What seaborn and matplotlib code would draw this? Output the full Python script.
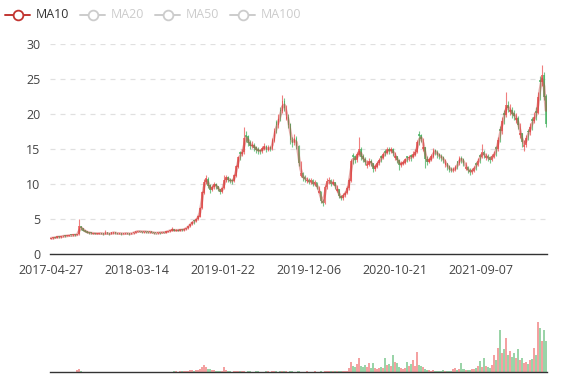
import numpy as np
import pandas as pd
import matplotlib
matplotlib.use('Agg')
import matplotlib.pyplot as plt
import seaborn as sns
from matplotlib.lines import Line2D

# weekly OHLC (2017-04-27 .. 2022-04)
close = [
    2.3, 2.35, 2.4, 2.5, 2.45, 2.55, 2.6, 2.6, 2.65, 2.7,
    2.7, 2.75, 2.75, 2.8, 3.9, 3.7, 3.4, 3.25, 3.1, 3.05,
    3.0, 3.0, 2.95, 2.95, 3.0, 2.95, 2.9, 3.0, 2.95, 2.9,
    3.05, 3.1, 3.0, 2.95, 3.0, 2.9, 2.95, 3.0, 2.95, 2.9,
    3.0, 3.1, 3.2, 3.3, 3.25, 3.2, 3.25, 3.2, 3.15, 3.2,
    3.1, 3.05, 3.0, 3.1, 3.05, 3.15, 3.1, 3.2, 3.3, 3.4,
    3.5, 3.4, 3.45, 3.4, 3.5, 3.45, 3.6, 3.7, 4.0, 4.3,
    4.6, 4.7, 5.0, 5.4, 6.5, 8.8, 10.3, 10.8, 9.8, 9.2,
    9.6, 10.0, 9.7, 9.3, 8.9, 9.4, 10.6, 11.0, 10.6, 10.5,
    10.4, 11.2, 12.5, 13.8, 14.3, 14.6, 16.5, 16.8, 15.9, 15.5,
    15.6, 15.2, 14.9, 14.8, 14.7, 15.1, 15.4, 14.9, 15.2, 15.0,
    16.2, 17.6, 18.5, 19.3, 20.4, 21.8, 20.9, 19.6, 18.5, 16.3,
    15.9, 16.6, 15.4, 13.0, 11.5, 10.9, 10.8, 10.6, 10.3, 10.5,
    10.0, 10.2, 9.6, 9.0, 7.6, 7.3, 9.6, 10.4, 10.5, 10.1,
    10.3, 9.7, 9.2, 8.3, 8.0, 8.4, 8.7, 9.4, 10.5, 13.2,
    13.9, 13.4, 14.2, 15.0, 13.9, 13.6, 13.2, 12.8, 13.3, 13.0,
    12.2, 12.5, 13.0, 13.4, 13.8, 14.2, 14.5, 14.9, 14.8, 14.9,
    14.4, 13.9, 13.4, 12.8, 12.9, 13.1, 13.5, 13.7, 13.8, 13.9,
    14.2, 14.6, 15.9, 16.9, 16.4, 15.2, 13.6, 13.2, 13.5, 13.9,
    14.8, 14.6, 14.2, 14.0, 13.8, 13.4, 12.9, 12.5, 12.1, 12.0,
    12.1, 12.4, 13.0, 13.7, 13.5, 13.0, 12.4, 12.0, 11.8, 11.9,
    12.2, 12.8, 13.3, 13.9, 14.6, 14.2, 13.9, 13.8, 13.5, 13.9,
    14.3, 15.0, 16.2, 17.6, 19.0, 19.9, 21.3, 20.9, 20.5, 20.1,
    19.8, 19.4, 18.5, 17.2, 16.0, 15.6, 16.6, 17.4, 18.1, 19.0,
    19.5, 20.2, 22.4, 24.6, 25.5, 22.5, 18.6,
]

open_ = [
    2.2, 2.3, 2.45, 2.4, 2.55, 2.45, 2.55, 2.65, 2.6, 2.65,
    2.75, 2.7, 2.8, 2.75, 2.85, 3.95, 3.65, 3.4, 3.2, 3.1,
    3.05, 2.95, 3.0, 2.9, 2.95, 3.0, 2.95, 2.9, 3.05, 2.95,
    2.9, 3.0, 3.1, 3.0, 2.95, 3.0, 2.9, 2.95, 3.0, 2.95,
    2.9, 3.0, 3.1, 3.2, 3.3, 3.25, 3.2, 3.25, 3.2, 3.15,
    3.2, 3.1, 3.05, 3.0, 3.1, 3.05, 3.15, 3.1, 3.2, 3.3,
    3.4, 3.5, 3.4, 3.45, 3.4, 3.5, 3.45, 3.6, 3.7, 4.0,
    4.3, 4.8, 4.75, 5.0, 5.4, 6.6, 8.8, 10.3, 10.7, 9.8,
    9.2, 9.6, 10.0, 9.7, 9.3, 8.9, 9.4, 10.6, 11.0, 10.6,
    10.5, 10.4, 11.2, 12.5, 14.5, 14.3, 14.6, 17.0, 16.8, 15.9,
    15.5, 15.6, 15.2, 14.9, 14.8, 14.7, 15.1, 15.4, 14.9, 15.2,
    15.0, 16.2, 18.8, 18.5, 20.6, 20.4, 21.8, 19.3, 19.6, 18.5,
    16.3, 15.9, 16.6, 15.4, 11.2, 11.5, 10.9, 10.4, 10.6, 10.3,
    10.5, 10.0, 10.2, 8.8, 9.0, 7.6, 7.3, 9.6, 10.4, 10.5,
    10.1, 10.3, 9.0, 9.2, 8.3, 8.0, 8.4, 8.7, 9.4, 10.5,
    14.1, 13.9, 13.4, 14.2, 15.0, 13.9, 13.6, 12.6, 12.8, 13.3,
    13.0, 12.2, 12.5, 13.0, 14.0, 13.8, 14.7, 14.5, 14.9, 14.8,
    14.9, 13.7, 13.9, 13.4, 12.8, 12.9, 13.1, 13.9, 13.7, 14.1,
    13.9, 14.2, 14.6, 17.1, 16.9, 15.0, 15.2, 13.6, 13.2, 13.5,
    13.9, 14.8, 14.6, 14.2, 14.0, 13.8, 12.7, 12.9, 12.5, 12.1,
    12.0, 12.1, 13.2, 13.0, 13.7, 13.5, 12.2, 12.4, 12.0, 11.8,
    11.9, 13.0, 12.8, 14.1, 13.9, 14.6, 13.7, 13.9, 13.8, 13.5,
    13.9, 15.2, 15.0, 17.8, 17.6, 20.1, 19.9, 21.3, 20.3, 20.5,
    20.1, 19.2, 19.4, 17.0, 17.2, 15.3, 15.6, 17.6, 17.4, 19.2,
    19.0, 20.4, 20.2, 24.8, 24.6, 25.5, 22.5,
]

high = [
    2.4, 2.45, 2.5, 2.6, 2.6, 2.65, 2.7, 2.7, 2.75, 2.8,
    2.8, 2.85, 2.85, 2.9, 5.0, 4.1, 3.75, 3.5, 3.3, 3.2,
    3.15, 3.1, 3.1, 3.05, 3.1, 3.1, 3.0, 3.5, 3.1, 3.0,
    3.15, 3.2, 3.15, 3.05, 3.1, 3.05, 3.05, 3.1, 3.05, 3.0,
    3.1, 3.2, 3.3, 3.4, 3.4, 3.35, 3.35, 3.3, 3.3, 3.3,
    3.25, 3.2, 3.1, 3.2, 3.15, 3.25, 3.2, 3.3, 3.4, 3.5,
    3.85, 3.6, 3.55, 3.55, 3.6, 3.6, 3.7, 3.8, 4.1, 4.4,
    4.75, 4.9, 5.2, 5.6, 6.7, 9.0, 10.8, 11.3, 11.0, 10.0,
    9.9, 10.3, 10.2, 9.8, 9.4, 9.6, 11.3, 11.4, 11.2, 10.9,
    10.8, 11.5, 12.8, 14.1, 14.8, 15.1, 18.2, 17.6, 17.0, 16.3,
    16.2, 15.9, 15.5, 15.3, 15.1, 15.5, 15.9, 15.6, 15.6, 15.5,
    16.6, 18.0, 19.2, 20.0, 21.0, 22.7, 22.3, 21.3, 20.0, 18.8,
    16.8, 17.2, 16.9, 15.6, 13.3, 11.8, 11.3, 11.1, 10.9, 10.9,
    10.7, 10.6, 10.3, 9.8, 9.1, 7.9, 9.9, 10.9, 11.0, 10.8,
    10.7, 10.4, 9.9, 9.3, 8.5, 8.7, 9.0, 9.7, 10.9, 13.6,
    14.5, 14.2, 14.6, 16.7, 15.3, 14.3, 13.9, 13.5, 13.7, 13.6,
    13.1, 12.9, 13.4, 13.8, 14.2, 14.6, 15.0, 15.4, 15.3, 15.4,
    15.2, 14.6, 14.1, 13.6, 13.3, 13.5, 13.8, 14.1, 14.2, 14.4,
    14.7, 15.0, 16.4, 17.6, 17.2, 16.6, 15.4, 14.0, 13.9, 14.3,
    15.2, 15.1, 14.9, 14.5, 14.3, 14.0, 13.6, 13.1, 12.7, 12.5,
    12.5, 12.8, 13.4, 14.1, 14.0, 13.7, 13.2, 12.6, 12.3, 12.3,
    12.6, 13.2, 13.7, 14.3, 15.8, 14.9, 14.5, 14.3, 14.0, 14.3,
    14.8, 15.5, 16.7, 18.3, 19.6, 20.6, 23.2, 21.9, 21.4, 21.0,
    20.6, 20.2, 19.7, 18.8, 17.4, 16.4, 17.1, 17.9, 18.7, 19.6,
    20.3, 21.0, 23.2, 25.5, 27.0, 26.0, 22.9,
]

low = [
    2.15, 2.25, 2.3, 2.35, 2.4, 2.4, 2.5, 2.5, 2.55, 2.6,
    2.6, 2.65, 2.65, 2.7, 2.8, 3.5, 3.3, 3.15, 3.0, 2.95,
    2.9, 2.9, 2.85, 2.85, 2.9, 2.85, 2.8, 2.85, 2.85, 2.8,
    2.85, 2.95, 2.9, 2.85, 2.9, 2.8, 2.85, 2.9, 2.85, 2.8,
    2.85, 2.95, 3.05, 3.15, 3.15, 3.1, 3.1, 3.1, 3.05, 3.1,
    3.0, 2.95, 2.9, 2.95, 2.95, 3.0, 3.0, 3.05, 3.15, 3.25,
    3.35, 3.3, 3.3, 3.3, 3.35, 3.35, 3.4, 3.5, 3.65, 3.9,
    4.2, 4.4, 4.6, 4.9, 5.3, 6.5, 8.6, 10.0, 9.5, 8.8,
    9.0, 9.4, 9.4, 9.0, 8.6, 8.8, 9.3, 10.4, 10.3, 10.2,
    10.1, 10.3, 11.0, 12.3, 13.5, 14.0, 14.4, 16.0, 15.5, 15.1,
    15.2, 14.8, 14.5, 14.4, 14.3, 14.5, 14.9, 14.6, 14.7, 14.7,
    14.9, 16.0, 17.3, 18.0, 19.0, 20.2, 20.4, 19.2, 18.0, 15.8,
    15.3, 15.6, 15.0, 12.6, 11.0, 10.5, 10.4, 10.2, 10.0, 10.1,
    9.7, 9.8, 9.3, 8.7, 7.3, 6.9, 7.2, 9.4, 10.1, 9.8,
    9.9, 9.4, 8.9, 8.0, 7.7, 7.8, 8.2, 8.6, 9.2, 10.4,
    12.9, 13.0, 13.2, 14.0, 13.5, 13.2, 12.8, 12.4, 12.6, 12.6,
    11.8, 11.9, 12.3, 12.8, 13.2, 13.6, 14.0, 14.3, 14.4, 14.5,
    14.0, 13.5, 13.0, 12.1, 12.5, 12.7, 12.9, 13.2, 13.3, 13.4,
    13.7, 14.0, 14.5, 15.6, 16.0, 14.8, 12.4, 12.8, 13.0, 13.3,
    13.7, 14.2, 13.8, 13.6, 13.4, 13.0, 12.5, 12.1, 11.7, 11.7,
    11.7, 11.9, 12.2, 12.8, 13.1, 12.6, 12.0, 11.6, 11.4, 11.5,
    11.7, 12.0, 12.6, 13.1, 13.7, 13.8, 13.5, 13.4, 13.1, 13.3,
    13.7, 14.1, 14.8, 16.0, 17.2, 18.6, 19.6, 20.3, 19.9, 19.5,
    19.2, 18.7, 17.9, 16.6, 15.4, 14.8, 15.3, 16.3, 17.1, 17.8,
    18.7, 19.2, 20.0, 22.0, 24.0, 22.0, 18.2,
]

# weekly volume (relative units)
volume = [
    0.4, 0.4, 0.5, 0.4, 0.4, 0.6, 0.4, 0.4, 0.5, 0.4,
    0.4, 0.5, 0.6, 2.5, 3.3, 1.5, 0.8, 0.5, 0.4, 0.4,
    0.4, 0.5, 0.4, 0.4, 0.5, 0.8, 0.4, 0.5, 0.4, 0.4,
    0.4, 0.5, 0.4, 0.4, 0.4, 0.5, 0.4, 0.4, 0.4, 0.5,
    0.5, 0.6, 0.5, 0.5, 0.4, 0.4, 0.5, 0.4, 0.4, 0.5,
    0.4, 0.4, 0.5, 0.4, 0.5, 0.5, 0.4, 0.5, 0.6, 0.7,
    0.8, 0.9, 1.0, 0.8, 1.0, 1.2, 1.5, 1.3, 1.8, 2.0,
    2.2, 1.8, 2.5, 2.5, 3.5, 5.0, 7.3, 5.0, 3.5, 3.0,
    2.0, 2.5, 1.8, 1.5, 1.5, 1.8, 5.0, 2.0, 1.5, 1.0,
    0.8, 1.0, 1.2, 0.9, 1.0, 1.2, 1.0, 0.8, 0.9, 1.0,
    0.8, 0.7, 0.9, 1.0, 0.8, 0.7, 0.8, 1.0, 0.9, 0.8,
    1.0, 1.2, 0.9, 0.8, 1.0, 1.2, 0.9, 1.0, 0.8, 0.9,
    1.0, 0.8, 0.7, 0.9, 0.8, 0.7, 0.8, 0.9, 0.7, 0.8,
    0.7, 0.9, 0.8, 0.7, 1.0, 0.8, 1.0, 1.2, 1.1, 1.3,
    1.0, 1.2, 1.5, 1.1, 1.0, 1.3, 1.2, 1.5, 4.0, 10.0,
    6.0, 5.0, 8.0, 14.8, 6.0, 5.0, 7.0, 5.0, 9.7, 4.0,
    9.0, 4.0, 3.5, 4.0, 5.0, 4.5, 14.8, 7.0, 8.0, 6.0,
    18.0, 10.0, 9.0, 5.0, 4.0, 3.5, 4.0, 10.0, 6.0, 8.0,
    12.4, 6.0, 20.5, 7.0, 6.0, 5.0, 3.0, 2.5, 2.0, 1.5,
    2.0, 1.5, 1.8, 1.2, 1.5, 2.0, 1.5, 1.2, 1.8, 1.5,
    3.0, 4.0, 2.5, 3.0, 9.0, 3.0, 2.5, 2.0, 2.5, 3.0,
    3.0, 4.0, 6.0, 11.4, 5.0, 14.8, 6.0, 5.0, 4.0, 7.0,
    17.4, 12.0, 25.0, 42.6, 20.0, 24.0, 35.0, 18.0, 22.0, 16.0,
    20.0, 15.0, 23.5, 12.0, 15.0, 9.0, 10.0, 8.0, 12.0, 14.0,
    25.0, 18.0, 51.0, 45.0, 32.0, 42.6, 32.0,
]

tick_labels = ['2017-04-27', '2018-03-14', '2019-01-22', '2019-12-06', '2020-10-21', '2021-09-07']
legend_names = ['MA10', 'MA20', 'MA50', 'MA100']

df = pd.DataFrame({'open': open_, 'close': close, 'high': high, 'low': low, 'volume': volume})
df['idx'] = np.arange(len(df))
df['ma10'] = df['close'].rolling(2, min_periods=1).mean()
df['up'] = df['close'] >= df['open']

UP = '#eb5454'
DOWN = '#47b262'
MA_COLOR = '#c23531'

sns.set_theme(style='white')
plt.rcParams['font.family'] = ['Open Sans', 'DejaVu Sans']

W, H = 577, 380
fig = plt.figure(figsize=(W / 100, H / 100), dpi=100)
n = len(df)

ax = fig.add_axes([50 / W, 1 - 254.3 / H, 497 / W, 210 / H])
axv = fig.add_axes([50 / W, 1 - 372.3 / H, 497 / W, 60 / H])

colors = np.where(df['up'], UP, DOWN)

# candles: wicks + bodies
ax.vlines(df['idx'], df['low'], df['high'], colors=colors, linewidth=0.8, alpha=0.75, zorder=3)
body_lo = np.minimum(df['open'], df['close'])
body_hi = np.maximum(df['open'], df['close'])
ax.bar(df['idx'], body_hi - body_lo + 0.08, bottom=body_lo, width=0.8,
       color=colors, linewidth=0, alpha=0.75, zorder=3)

# MA10 line
sns.lineplot(x='idx', y='ma10', data=df, ax=ax, color=MA_COLOR, linewidth=2.0,
             alpha=0.4, zorder=4, legend=False)

ax.set_xlim(-0.5, n - 0.5)
ax.set_ylim(0, 30)
ax.set_yticks(range(0, 31, 5))
ax.set_xlabel('')
ax.set_ylabel('')
ax.grid(axis='y', color='#e0e0e0', linestyle=(0, (4, 4)), linewidth=0.9)
ax.set_axisbelow(True)
for s in ['top', 'right', 'left']:
    ax.spines[s].set_visible(False)
ax.spines['bottom'].set_color('#333333')
ax.spines['bottom'].set_linewidth(1.0)
ax.spines['bottom'].set_zorder(5)

tick_step = (n - 1) / 5.76
ax.set_xticks([k * tick_step for k in range(len(tick_labels))])
ax.set_xticklabels(tick_labels)
ax.tick_params(axis='x', direction='out', length=5, width=1, color='#333333',
               labelsize=9, labelcolor='#444444', pad=2)
ax.tick_params(axis='y', length=0, labelsize=9, labelcolor='#444444', pad=7)

# volume
axv.bar(df['idx'], df['volume'], width=1.0, color=colors, alpha=0.55, linewidth=0)
axv.set_xlim(-0.5, n - 0.5)
axv.set_ylim(0, 61)
axv.set_xticks([])
axv.set_yticks([])
for s in ['top', 'right', 'left']:
    axv.spines[s].set_visible(False)
axv.spines['bottom'].set_color('#333333')
axv.spines['bottom'].set_linewidth(1.0)
axv.patch.set_alpha(0)

# legend drawn by hand, only MA10 active
ly = 1 - 15 / H
for k, name in enumerate(legend_names):
    c = MA_COLOR if k == 0 else '#cccccc'
    x0 = 5 + 75 * k
    fig.add_artist(Line2D([x0 / W, (x0 + 25) / W], [ly, ly], color=c, linewidth=1.4))
    fig.add_artist(Line2D([(x0 + 12.5) / W], [ly], marker='o', markersize=7,
                          markerfacecolor='white', markeredgecolor=c, markeredgewidth=1.3,
                          linestyle='none'))
    fig.text((x0 + 31) / W, ly, name, fontsize=9, va='center', ha='left',
             color='#333333' if k == 0 else '#cccccc')

fig.savefig('out.png', dpi=100)
